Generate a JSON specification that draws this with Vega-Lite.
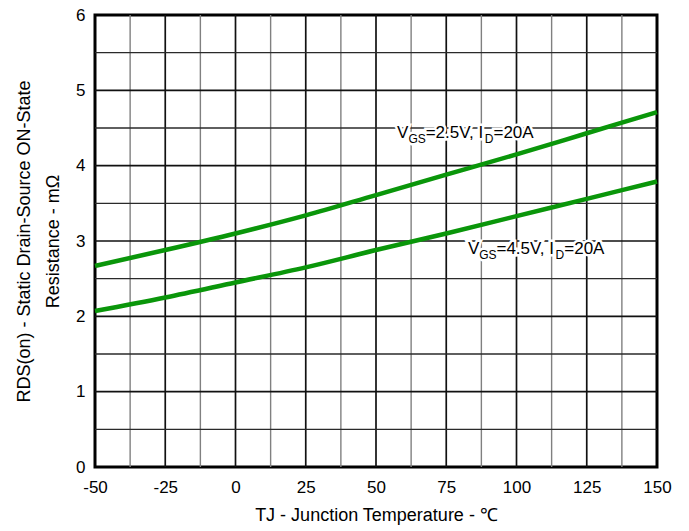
{
  "$schema": "https://vega.github.io/schema/vega-lite/v6.json",
  "width": 562,
  "height": 452,
  "autosize": "none",
  "padding": {"left": 95, "top": 15, "right": 32, "bottom": 64},
  "background": "white",
  "config": {
    "view": {"stroke": "black", "strokeWidth": 3},
    "font": "Liberation Sans",
    "axis": {"domain": false, "ticks": false, "grid": false, "labelFont": "Liberation Sans", "titleFont": "Liberation Sans", "labelFontSize": 17, "titleFontSize": 18, "titleFontWeight": "normal", "labelColor": "black", "titleColor": "black", "labelFlush": false}
  },
  "datasets": {
    "curves": [
      {"t": -50, "v": 2.67, "s": "2.5"}, {"t": -25, "v": 2.88, "s": "2.5"}, {"t": 0, "v": 3.1, "s": "2.5"}, {"t": 25, "v": 3.34, "s": "2.5"}, {"t": 50, "v": 3.61, "s": "2.5"}, {"t": 75, "v": 3.88, "s": "2.5"}, {"t": 100, "v": 4.15, "s": "2.5"}, {"t": 125, "v": 4.43, "s": "2.5"}, {"t": 150, "v": 4.71, "s": "2.5"},
      {"t": -50, "v": 2.07, "s": "4.5"}, {"t": -25, "v": 2.25, "s": "4.5"}, {"t": 0, "v": 2.45, "s": "4.5"}, {"t": 25, "v": 2.65, "s": "4.5"}, {"t": 50, "v": 2.88, "s": "4.5"}, {"t": 75, "v": 3.1, "s": "4.5"}, {"t": 100, "v": 3.33, "s": "4.5"}, {"t": 125, "v": 3.56, "s": "4.5"}, {"t": 150, "v": 3.79, "s": "4.5"}
    ],
    "vgrid": [
      {"t": -37.5}, {"t": -25}, {"t": -12.5}, {"t": 0}, {"t": 12.5}, {"t": 25}, {"t": 37.5}, {"t": 50}, {"t": 62.5}, {"t": 75}, {"t": 87.5}, {"t": 100}, {"t": 112.5}, {"t": 125}, {"t": 137.5}
    ],
    "hgrid": [
      {"v": 0.5}, {"v": 1}, {"v": 1.5}, {"v": 2}, {"v": 2.5}, {"v": 3}, {"v": 3.5}, {"v": 4}, {"v": 4.5}, {"v": 5}, {"v": 5.5}
    ],
    "labels": [
      {"t": 57.5, "v": 4.37, "mid": "=2.5V, I"},
      {"t": 82.7, "v": 2.83, "mid": "=4.5V, I"}
    ]
  },
  "layer": [
    {
      "data": {"name": "vgrid"},
      "mark": {"type": "rule"},
      "encoding": {
        "x": {"field": "t", "type": "quantitative", "scale": {"domain": [-50, 150], "nice": false, "zero": false},
          "axis": {"values": [-50, -25, 0, 25, 50, 75, 100, 125, 150], "labelExpr": "'' + datum.value", "labelOverlap": false, "labelPadding": 12,
            "title": "TJ - Junction Temperature - ℃", "titlePadding": 11}},
        "color": {"condition": {"test": "datum.t % 25 === 0", "value": "#111111"}, "value": "#808080"},
        "strokeWidth": {"condition": {"test": "datum.t % 25 === 0", "value": 1.7}, "value": 1.4}
      }
    },
    {
      "data": {"name": "hgrid"},
      "mark": {"type": "rule"},
      "encoding": {
        "y": {"field": "v", "type": "quantitative", "scale": {"domain": [0, 6], "nice": false},
          "axis": {"values": [0, 1, 2, 3, 4, 5, 6], "labelExpr": "'' + datum.value", "labelOverlap": false, "labelPadding": 10,
            "title": ["RDS(on) - Static Drain-Source ON-State", "Resistance - mΩ"], "titleLineHeight": 29, "titlePadding": 13}},
        "color": {"condition": {"test": "datum.v % 1 === 0", "value": "#111111"}, "value": "#2a2a2a"},
        "strokeWidth": {"condition": {"test": "datum.v % 1 === 0", "value": 1.7}, "value": 1.3}
      }
    },
    {
      "data": {"name": "curves"},
      "mark": {"type": "line", "color": "#0a960a", "strokeWidth": 4.5, "interpolate": "monotone"},
      "encoding": {
        "x": {"field": "t", "type": "quantitative"},
        "y": {"field": "v", "type": "quantitative"},
        "detail": {"field": "s"}
      }
    },
    {"data": {"name": "labels"}, "mark": {"type": "text", "align": "left", "baseline": "alphabetic", "fontSize": 17, "dx": 0, "stroke": "white", "strokeWidth": 5, "fill": "white"}, "encoding": {"x": {"field": "t", "type": "quantitative"}, "y": {"field": "v", "type": "quantitative"}, "text": {"value": "V"}}},
    {"data": {"name": "labels"}, "mark": {"type": "text", "align": "left", "baseline": "alphabetic", "fontSize": 12, "dx": 11.3, "dy": 5, "stroke": "white", "strokeWidth": 5, "fill": "white"}, "encoding": {"x": {"field": "t", "type": "quantitative"}, "y": {"field": "v", "type": "quantitative"}, "text": {"value": "GS"}}},
    {"data": {"name": "labels"}, "mark": {"type": "text", "align": "left", "baseline": "alphabetic", "fontSize": 17, "dx": 28.6, "stroke": "white", "strokeWidth": 5, "fill": "white"}, "encoding": {"x": {"field": "t", "type": "quantitative"}, "y": {"field": "v", "type": "quantitative"}, "text": {"field": "mid"}}},
    {"data": {"name": "labels"}, "mark": {"type": "text", "align": "left", "baseline": "alphabetic", "fontSize": 12, "dx": 87.7, "dy": 5, "stroke": "white", "strokeWidth": 5, "fill": "white"}, "encoding": {"x": {"field": "t", "type": "quantitative"}, "y": {"field": "v", "type": "quantitative"}, "text": {"value": "D"}}},
    {"data": {"name": "labels"}, "mark": {"type": "text", "align": "left", "baseline": "alphabetic", "fontSize": 17, "dx": 96.4, "stroke": "white", "strokeWidth": 5, "fill": "white"}, "encoding": {"x": {"field": "t", "type": "quantitative"}, "y": {"field": "v", "type": "quantitative"}, "text": {"value": "=20A"}}},
    {"data": {"name": "labels"}, "mark": {"type": "text", "align": "left", "baseline": "alphabetic", "fontSize": 17, "dx": 0, "fill": "black"}, "encoding": {"x": {"field": "t", "type": "quantitative"}, "y": {"field": "v", "type": "quantitative"}, "text": {"value": "V"}}},
    {"data": {"name": "labels"}, "mark": {"type": "text", "align": "left", "baseline": "alphabetic", "fontSize": 12, "dx": 11.3, "dy": 5, "fill": "black"}, "encoding": {"x": {"field": "t", "type": "quantitative"}, "y": {"field": "v", "type": "quantitative"}, "text": {"value": "GS"}}},
    {"data": {"name": "labels"}, "mark": {"type": "text", "align": "left", "baseline": "alphabetic", "fontSize": 17, "dx": 28.6, "fill": "black"}, "encoding": {"x": {"field": "t", "type": "quantitative"}, "y": {"field": "v", "type": "quantitative"}, "text": {"field": "mid"}}},
    {"data": {"name": "labels"}, "mark": {"type": "text", "align": "left", "baseline": "alphabetic", "fontSize": 12, "dx": 87.7, "dy": 5, "fill": "black"}, "encoding": {"x": {"field": "t", "type": "quantitative"}, "y": {"field": "v", "type": "quantitative"}, "text": {"value": "D"}}},
    {"data": {"name": "labels"}, "mark": {"type": "text", "align": "left", "baseline": "alphabetic", "fontSize": 17, "dx": 96.4, "fill": "black"}, "encoding": {"x": {"field": "t", "type": "quantitative"}, "y": {"field": "v", "type": "quantitative"}, "text": {"value": "=20A"}}}
  ]
}
